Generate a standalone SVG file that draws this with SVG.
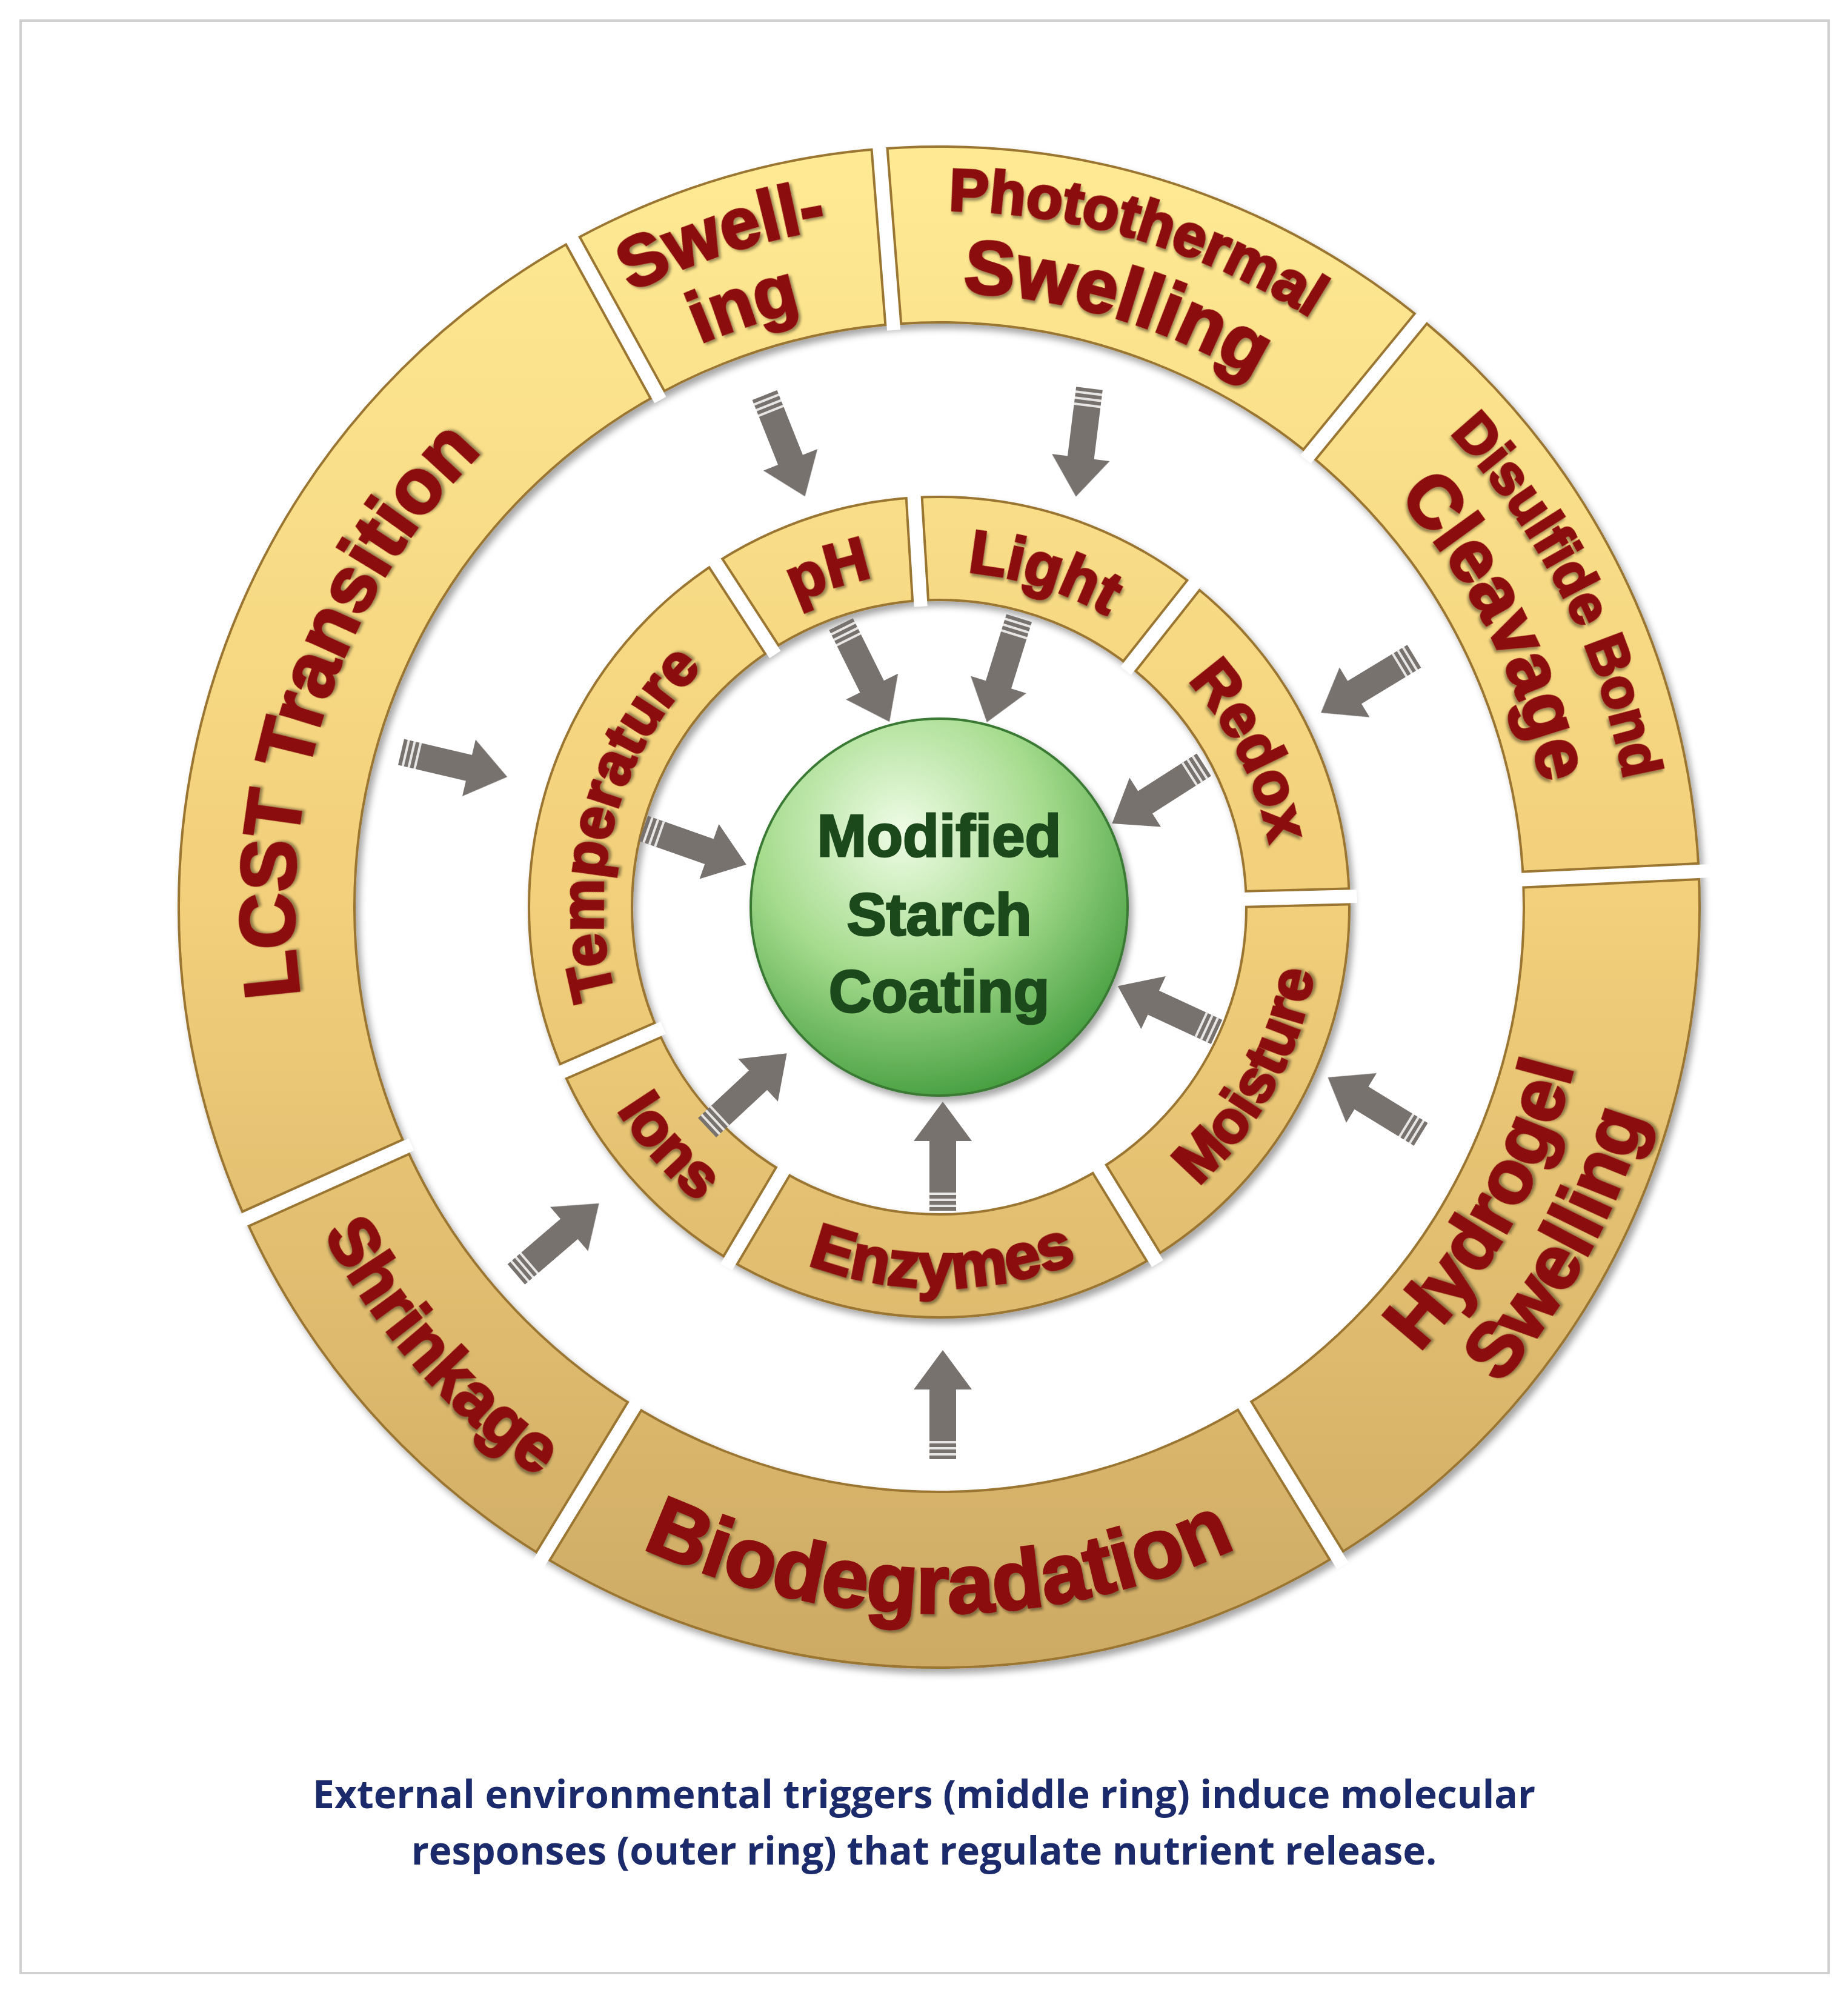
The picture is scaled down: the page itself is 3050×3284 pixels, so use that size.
<svg xmlns="http://www.w3.org/2000/svg" xmlns:xlink="http://www.w3.org/1999/xlink" width="3050" height="3284" viewBox="0 0 3050 3284">
<style>
.lbl{font-family:"Liberation Sans",Arial,sans-serif;font-weight:bold;fill:#8B0A0A;stroke:#8B0A0A;stroke-width:4;filter:url(#ts)}
.cap{font-family:"Open Sans","Liberation Sans",sans-serif;font-weight:bold;fill:#1B2A6B;font-size:64px;text-anchor:middle}
.ctr{font-family:"Liberation Sans",Arial,sans-serif;font-weight:bold;fill:#1E4A1E;stroke:#1E4A1E;stroke-width:3;font-size:98px;text-anchor:middle}
.edge{fill:none;stroke:#9A7632;stroke-width:4}
.gapd{stroke:#9A7632;stroke-width:30}
.gapw{stroke:#ffffff;stroke-width:22}
</style>
<defs>
<linearGradient id="gold" gradientUnits="userSpaceOnUse" x1="0" y1="240" x2="0" y2="2760">
<stop offset="0" stop-color="#FFEA94"/><stop offset="0.5" stop-color="#F2CF7A"/><stop offset="1" stop-color="#CDAA64"/>
</linearGradient>
<radialGradient id="green" cx="0.4" cy="0.3" r="0.75">
<stop offset="0" stop-color="#EFFCE6"/><stop offset="0.5" stop-color="#A6DC8E"/><stop offset="1" stop-color="#3F9A3A"/>
</radialGradient>
<filter id="sh" x="-10%" y="-10%" width="120%" height="120%"><feDropShadow dx="6" dy="8" stdDeviation="6" flood-color="#000" flood-opacity="0.35"/></filter>
<filter id="ts" x="-10%" y="-20%" width="120%" height="140%"><feDropShadow dx="3" dy="4" stdDeviation="2" flood-color="#000" flood-opacity="0.4"/></filter>
<path id="cw1065" d="M 485 1497 A 1065 1065 0 0 1 2615 1497"/>
<path id="cw1135" d="M 415 1497 A 1135 1135 0 0 1 2685 1497"/>
<path id="cw1010" d="M 540 1497 A 1010 1010 0 0 1 2560 1497"/>
<path id="cw1150" d="M 400 1497 A 1150 1150 0 0 1 2700 1497"/>
<path id="cw1015" d="M 535 1497 A 1015 1015 0 0 1 2565 1497"/>
<path id="ccw1080" d="M 470 1497 A 1080 1080 0 0 0 2630 1497"/>
<path id="ccw1215" d="M 335 1497 A 1215 1215 0 0 0 2765 1497"/>
<path id="ccw1165" d="M 385 1497 A 1165 1165 0 0 0 2715 1497"/>
<path id="ccw1150" d="M 400 1497 A 1150 1150 0 0 0 2700 1497"/>
<path id="cw555" d="M 995 1497 A 555 555 0 0 1 2105 1497"/>
<path id="ccw628" d="M 922 1497 A 628 628 0 0 0 2178 1497"/>
<g id="arr">
<path d="M0 -22 L115 -22 L115 -48 L180 0 L115 48 L115 22 L0 22 Z" fill="#78726E"/>
<path d="M8 -22 V22 M18 -22 V22 M28 -22 V22" stroke="#E8E6E4" stroke-width="4"/>
</g>
</defs>
<rect x="34" y="34" width="2984" height="3222" fill="#fff" stroke="#D0D0D0" stroke-width="4"/>

<g id="outer-ring" filter="url(#sh)">
<circle cx="1550" cy="1497" r="1110" fill="none" stroke="url(#gold)" stroke-width="290"/>
<circle class="edge" cx="1550" cy="1497" r="1255"/>
<circle class="edge" cx="1550" cy="1497" r="965"/>
<line class="gapd" x1="2515" y1="1497" x2="2805" y2="1497" transform="rotate(-118.8 1550 1497)"/>
<line class="gapd" x1="2515" y1="1497" x2="2805" y2="1497" transform="rotate(-94.5 1550 1497)"/>
<line class="gapd" x1="2515" y1="1497" x2="2805" y2="1497" transform="rotate(-50.7 1550 1497)"/>
<line class="gapd" x1="2515" y1="1497" x2="2805" y2="1497" transform="rotate(-2.7 1550 1497)"/>
<line class="gapd" x1="2515" y1="1497" x2="2805" y2="1497" transform="rotate(58.5 1550 1497)"/>
<line class="gapd" x1="2515" y1="1497" x2="2805" y2="1497" transform="rotate(121.4 1550 1497)"/>
<line class="gapd" x1="2515" y1="1497" x2="2805" y2="1497" transform="rotate(155.8 1550 1497)"/>
</g>
<g>
<line class="gapw" x1="2505" y1="1497" x2="2825" y2="1497" transform="rotate(-118.8 1550 1497)"/>
<line class="gapw" x1="2505" y1="1497" x2="2825" y2="1497" transform="rotate(-94.5 1550 1497)"/>
<line class="gapw" x1="2505" y1="1497" x2="2825" y2="1497" transform="rotate(-50.7 1550 1497)"/>
<line class="gapw" x1="2505" y1="1497" x2="2825" y2="1497" transform="rotate(-2.7 1550 1497)"/>
<line class="gapw" x1="2505" y1="1497" x2="2825" y2="1497" transform="rotate(58.5 1550 1497)"/>
<line class="gapw" x1="2505" y1="1497" x2="2825" y2="1497" transform="rotate(121.4 1550 1497)"/>
<line class="gapw" x1="2505" y1="1497" x2="2825" y2="1497" transform="rotate(155.8 1550 1497)"/>
</g>

<g id="middle-ring" filter="url(#sh)">
<circle cx="1550" cy="1497" r="592" fill="none" stroke="url(#gold)" stroke-width="170"/>
<circle class="edge" cx="1550" cy="1497" r="677"/>
<circle class="edge" cx="1550" cy="1497" r="507"/>
<line class="gapd" x1="2057" y1="1497" x2="2227" y2="1497" transform="rotate(-123 1550 1497)"/>
<line class="gapd" x1="2057" y1="1497" x2="2227" y2="1497" transform="rotate(-93.5 1550 1497)"/>
<line class="gapd" x1="2057" y1="1497" x2="2227" y2="1497" transform="rotate(-51.7 1550 1497)"/>
<line class="gapd" x1="2057" y1="1497" x2="2227" y2="1497" transform="rotate(-1.5 1550 1497)"/>
<line class="gapd" x1="2057" y1="1497" x2="2227" y2="1497" transform="rotate(58.5 1550 1497)"/>
<line class="gapd" x1="2057" y1="1497" x2="2227" y2="1497" transform="rotate(120.6 1550 1497)"/>
<line class="gapd" x1="2057" y1="1497" x2="2227" y2="1497" transform="rotate(156.4 1550 1497)"/>
</g>
<g>
<line class="gapw" x1="2047" y1="1497" x2="2240" y2="1497" transform="rotate(-123 1550 1497)"/>
<line class="gapw" x1="2047" y1="1497" x2="2240" y2="1497" transform="rotate(-93.5 1550 1497)"/>
<line class="gapw" x1="2047" y1="1497" x2="2240" y2="1497" transform="rotate(-51.7 1550 1497)"/>
<line class="gapw" x1="2047" y1="1497" x2="2240" y2="1497" transform="rotate(-1.5 1550 1497)"/>
<line class="gapw" x1="2047" y1="1497" x2="2240" y2="1497" transform="rotate(58.5 1550 1497)"/>
<line class="gapw" x1="2047" y1="1497" x2="2240" y2="1497" transform="rotate(120.6 1550 1497)"/>
<line class="gapw" x1="2047" y1="1497" x2="2240" y2="1497" transform="rotate(156.4 1550 1497)"/>
</g>

<g id="center" filter="url(#sh)">
<circle cx="1550" cy="1497" r="311" fill="url(#green)" stroke="#3A7A34" stroke-width="4"/>
<text class="ctr" x="1550" y="1413">Modified</text>
<text class="ctr" x="1550" y="1543">Starch</text>
<text class="ctr" x="1550" y="1670">Coating</text>
</g>

<g id="lcst"><text class="lbl" font-size="128" text-anchor="middle" transform="rotate(288.5 1550 1497)"><textPath href="#cw1065" startOffset="50%">LCST  Transition</textPath></text></g>
<g id="swelling1"><text class="lbl" font-size="118" text-anchor="middle" transform="rotate(-18 1550 1497)"><textPath href="#cw1135" startOffset="50%">Swell-</textPath></text>
<text class="lbl" font-size="118" text-anchor="middle" transform="rotate(-18 1550 1497)"><textPath href="#cw1010" startOffset="50%">ing</textPath></text></g>
<g id="photothermal"><text class="lbl" font-size="98" text-anchor="middle" transform="rotate(16.5 1550 1497)"><textPath href="#cw1150" startOffset="50%">Photothermal</textPath></text>
<text class="lbl" font-size="125" text-anchor="middle" transform="rotate(16.5 1550 1497)"><textPath href="#cw1015" startOffset="50%">Swelling</textPath></text></g>
<g id="disulfide"><text class="lbl" font-size="92" text-anchor="middle" transform="rotate(63.3 1550 1497)"><textPath href="#cw1150" startOffset="50%">Disulfide Bond</textPath></text>
<text class="lbl" font-size="122" text-anchor="middle" transform="rotate(63.3 1550 1497)"><textPath href="#cw1015" startOffset="50%">Cleavage</textPath></text></g>
<g id="hydrogel"><text class="lbl" font-size="125" text-anchor="middle" transform="rotate(-61.5 1550 1497)"><textPath href="#ccw1080" startOffset="50%">Hydrogel</textPath></text>
<text class="lbl" font-size="125" text-anchor="middle" transform="rotate(-61.5 1550 1497)"><textPath href="#ccw1215" startOffset="50%">Swelling</textPath></text></g>
<g id="biodegradation"><text class="lbl" font-size="138" text-anchor="middle"><textPath href="#ccw1165" startOffset="50%">Biodegradation</textPath></text></g>
<g id="shrinkage"><text class="lbl" font-size="112" text-anchor="middle" transform="rotate(48.6 1550 1497)"><textPath href="#ccw1150" startOffset="50%">Shrinkage</textPath></text></g>

<g id="temperature"><text class="lbl" font-size="98" text-anchor="middle" transform="rotate(285 1550 1497)"><textPath href="#cw555" startOffset="50%">Temperature</textPath></text></g>
<g id="ph"><text class="lbl" font-size="100" text-anchor="middle" transform="rotate(-18.25 1550 1497)"><textPath href="#cw555" startOffset="50%">pH</textPath></text></g>
<g id="light"><text class="lbl" font-size="100" text-anchor="middle" transform="rotate(17.4 1550 1497)"><textPath href="#cw555" startOffset="50%">Light</textPath></text></g>
<g id="redox"><text class="lbl" font-size="100" text-anchor="middle" transform="rotate(63.4 1550 1497)"><textPath href="#cw555" startOffset="50%">Redox</textPath></text></g>
<g id="moisture"><text class="lbl" font-size="98" text-anchor="middle" transform="rotate(-61.5 1550 1497)"><textPath href="#ccw628" startOffset="50%">Moisture</textPath></text></g>
<g id="enzymes"><text class="lbl" font-size="105" text-anchor="middle" transform="rotate(-0.5 1550 1497)"><textPath href="#ccw628" startOffset="50%">Enzymes</textPath></text></g>
<g id="ions"><text class="lbl" font-size="100" text-anchor="middle" transform="rotate(48.5 1550 1497)"><textPath href="#ccw628" startOffset="50%">Ions</textPath></text></g>

<g id="connectors">
<use href="#arr" transform="translate(1262 652) rotate(68.3)"/>
<use href="#arr" transform="translate(1798 641) rotate(97.1)"/>
<use href="#arr" transform="translate(2334 1083) rotate(148.8)"/>
<use href="#arr" transform="translate(662 1241) rotate(13.2)"/>
<use href="#arr" transform="translate(2345 1872) rotate(211.5)"/>
<use href="#arr" transform="translate(852 2103) rotate(-40.6)"/>
<use href="#arr" transform="translate(1556 2408) rotate(-90)"/>
<use href="#arr" transform="translate(1388 1030) rotate(63.6)"/>
<use href="#arr" transform="translate(1682 1020) rotate(107.2)"/>
<use href="#arr" transform="translate(1987 1262) rotate(147.4)"/>
<use href="#arr" transform="translate(1062 1367) rotate(19.4)"/>
<use href="#arr" transform="translate(2008 1703) rotate(204.9)"/>
<use href="#arr" transform="translate(1167 1861) rotate(-43)"/>
<use href="#arr" transform="translate(1556 1998) rotate(-90)"/>
</g>

<g id="caption">
<text class="cap" x="1525" y="2984">External environmental triggers (middle ring) induce molecular</text>
<text class="cap" x="1525" y="3077">responses (outer ring) that regulate nutrient release.</text>
</g>
</svg>
